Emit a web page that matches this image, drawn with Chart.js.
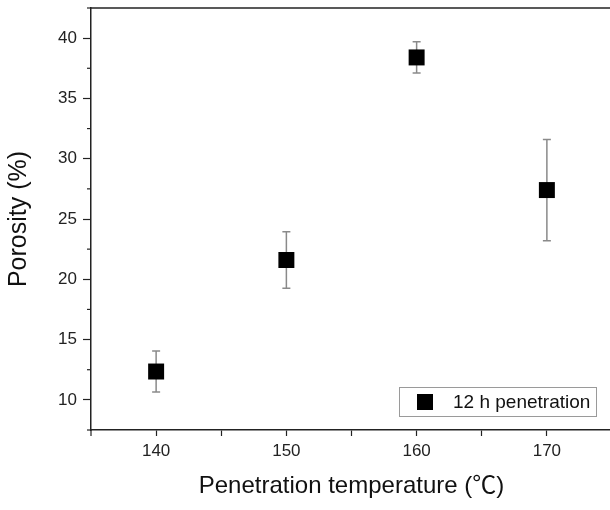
<!DOCTYPE html>
<html>
<head>
<meta charset="utf-8">
<script src="https://cdn.jsdelivr.net/npm/chart.js@4"></script>
<style>
  html, body { margin: 0; padding: 0; background: #fff; overflow: hidden; }
  #wrap { position: relative; width: 612px; height: 510px; }
</style>
</head>
<body>
<div id="wrap"><canvas id="c" width="612" height="510"></canvas></div>
<script>
// ---- data ----
const temperatures = [140, 150, 160, 170];
const porosity = [12.35, 21.6, 38.4, 27.4];
const porosityError = [1.7, 2.35, 1.3, 4.2];
const seriesLabel = '12 h penetration';
const xTickValues = [135, 140, 145, 150, 155, 160, 165, 170, 175];
const xLabelValues = [140, 150, 160, 170];
const yTickValues = [7.5, 10, 12.5, 15, 17.5, 20, 22.5, 25, 27.5, 30, 32.5, 35, 37.5, 40, 42.5];
const yLabelValues = [10, 15, 20, 25, 30, 35, 40];
const xTitle = 'Penetration temperature (\u2103)';
const yTitle = 'Porosity (%)';

const FONT = '"Liberation Sans", Arial, "Noto Sans CJK SC", sans-serif';
const AXIS_COLOR = '#222';
const X_MIN = 135, X_MAX = 175, Y_MIN = 7.5, Y_MAX = 42.5;

const errorBars = {
  id: 'errorBars',
  beforeDatasetsDraw(chart) {
    const ctx = chart.ctx;
    const xs = chart.scales.x, ys = chart.scales.y;
    ctx.save();
    ctx.strokeStyle = '#8a8a8a';
    ctx.lineWidth = 1.5;
    temperatures.forEach((t, i) => {
      const px = xs.getPixelForValue(t);
      const top = ys.getPixelForValue(porosity[i] + porosityError[i]);
      const bot = ys.getPixelForValue(porosity[i] - porosityError[i]);
      ctx.beginPath();
      ctx.moveTo(px, top); ctx.lineTo(px, bot);
      ctx.moveTo(px - 4, top); ctx.lineTo(px + 4, top);
      ctx.moveTo(px - 4, bot); ctx.lineTo(px + 4, bot);
      ctx.stroke();
    });
    ctx.restore();
  }
};

const frame = {
  id: 'frame',
  afterDraw(chart) {
    const ctx = chart.ctx;
    const a = chart.chartArea;
    const xs = chart.scales.x, ys = chart.scales.y;
    ctx.save();
    ctx.strokeStyle = AXIS_COLOR;
    ctx.lineWidth = 1.5;
    // top border
    ctx.beginPath();
    ctx.moveTo(a.left, a.top);
    ctx.lineTo(a.right, a.top);
    ctx.stroke();
    // end ticks on x axis
    ctx.lineWidth = 1.2;
    xTickValues.forEach(v => {
      if (v > X_MIN && v < X_MAX) return;
      const px = xs.getPixelForValue(v);
      ctx.beginPath();
      ctx.moveTo(px, a.bottom);
      ctx.lineTo(px, a.bottom + 6);
      ctx.stroke();
    });
    // minor y ticks
    yTickValues.forEach(v => {
      if (yLabelValues.includes(v)) return;
      const py = ys.getPixelForValue(v);
      ctx.beginPath();
      ctx.moveTo(a.left - 4, py);
      ctx.lineTo(a.left, py);
      ctx.stroke();
    });
    // legend
    const bx = a.right - 213, by = a.bottom - 43, bw = 197, bh = 29;
    ctx.strokeStyle = '#9a9a9a';
    ctx.lineWidth = 1;
    ctx.fillStyle = '#fff';
    ctx.fillRect(bx, by, bw, bh);
    ctx.strokeRect(bx + 0.5, by + 0.5, bw, bh);
    ctx.fillStyle = '#000';
    ctx.fillRect(bx + 18, by + 7, 16, 16);
    ctx.fillStyle = '#111';
    ctx.font = '19px ' + FONT;
    ctx.textBaseline = 'middle';
    ctx.textAlign = 'left';
    ctx.fillText(chart.data.datasets[0].label, bx + 54, by + bh / 2 + 1);
    ctx.restore();
  }
};

new Chart(document.getElementById('c'), {
  type: 'scatter',
  data: {
    datasets: [{
      label: seriesLabel,
      data: temperatures.map((t, i) => ({ x: t, y: porosity[i] })),
      pointStyle: 'rect',
      pointRadius: 11.3,
      pointHoverRadius: 11.3,
      backgroundColor: '#000',
      borderColor: '#000',
      borderWidth: 0
    }]
  },
  options: {
    responsive: false,
    animation: false,
    events: [],
    layout: { autoPadding: false, padding: { top: 8, right: 0, left: 0, bottom: 0 } },
    plugins: { legend: { display: false }, tooltip: { enabled: false } },
    scales: {
      x: {
        type: 'linear',
        min: X_MIN, max: X_MAX,
        afterBuildTicks: s => { s.ticks = xTickValues.filter(v => v > X_MIN && v < X_MAX).map(v => ({ value: v })); },
        afterFit: s => { s.height = 80; s.paddingLeft = 0; s.paddingRight = 0; },
        border: { display: true, color: AXIS_COLOR, width: 1.5 },
        grid: { display: true, drawOnChartArea: false, drawTicks: true, tickLength: 6, tickColor: AXIS_COLOR, tickWidth: 1.2 },
        ticks: {
          autoSkip: false, maxRotation: 0, padding: 5,
          color: '#222', font: { family: FONT, size: 17 },
          callback: v => xLabelValues.includes(v) ? String(v) : ''
        },
        title: {
          display: true, text: xTitle, color: '#111',
          font: { family: FONT, size: 24 }, padding: { top: 0, bottom: 9 }
        }
      },
      y: {
        type: 'linear',
        min: Y_MIN, max: Y_MAX,
        afterBuildTicks: s => { s.ticks = yLabelValues.map(v => ({ value: v })); },
        afterFit: s => { s.width = 91; s.paddingTop = 0; s.paddingBottom = 0; },
        border: { display: true, color: AXIS_COLOR, width: 1.5 },
        grid: { display: true, drawOnChartArea: false, drawTicks: true, tickLength: 8, tickWidth: 1.2, tickColor: AXIS_COLOR },
        ticks: {
          autoSkip: false, padding: 6,
          color: '#222', font: { family: FONT, size: 17 },
          callback: v => String(v)
        },
        title: {
          display: true, text: yTitle, color: '#111',
          font: { family: FONT, size: 25 }, padding: { top: 4, bottom: 0 }
        }
      }
    }
  },
  plugins: [errorBars, frame]
});
</script>
</body>
</html>
